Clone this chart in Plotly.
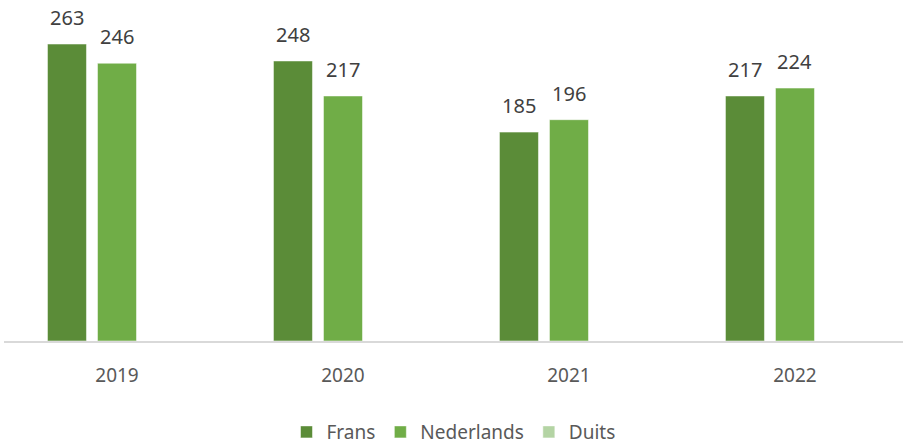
import plotly.graph_objects as go

years = ["2019", "2020", "2021", "2022"]
frans = [263, 248, 185, 217]
nederlands = [246, 217, 196, 224]
duits = [None, None, None, None]

series = [
    ("Frans", frans, "#5B8C38"),
    ("Nederlands", nederlands, "#70AD47"),
    ("Duits", duits, "#B4D4A4"),
]

FONT = "Noto Sans"
fig = go.Figure()
slot = 50  # pixel offset between bars within a group
for i, (name, vals, col) in enumerate(series):
    fig.add_trace(go.Bar(
        name=name, x=years, y=vals,
        marker=dict(color=col, line=dict(color="rgba(255,255,255,0.5)", width=1)),
    ))
    for j, v in enumerate(vals):
        if v is None:
            continue
        fig.add_annotation(
            x=j, y=v, text=str(v), showarrow=False,
            xref="x", yref="y", yanchor="bottom",
            xshift=(i - 1) * slot, yshift=11,
            font=dict(family=FONT, size=20, color="#404040"),
        )

fig.update_layout(
    width=903, height=445,
    margin=dict(l=4, r=0, t=0, b=104, autoexpand=False),
    paper_bgcolor="white", plot_bgcolor="white",
    barmode="group", bargap=0.336, bargroupgap=0.22,
    showlegend=True,
    legend=dict(orientation="h", x=0.5, xanchor="center", y=-0.267, yanchor="middle",
                font=dict(family=FONT, size=19, color="#595959"),
                itemwidth=30, traceorder="normal"),
    xaxis=dict(type="category", range=[-0.5, 3.478], showline=True, linecolor="#D9D9D9",
               linewidth=1.5, showgrid=False, zeroline=False, ticks="outside", ticklen=0,
               ticklabelstandoff=16,
               tickfont=dict(family=FONT, size=19, color="#595959")),
    yaxis=dict(range=[0, 302], visible=False, showgrid=False, zeroline=False),
)

fig.write_html("out.html", config={"displayModeBar": False},
               post_script="document.body.style.margin='0';document.body.style.overflow='hidden';")
